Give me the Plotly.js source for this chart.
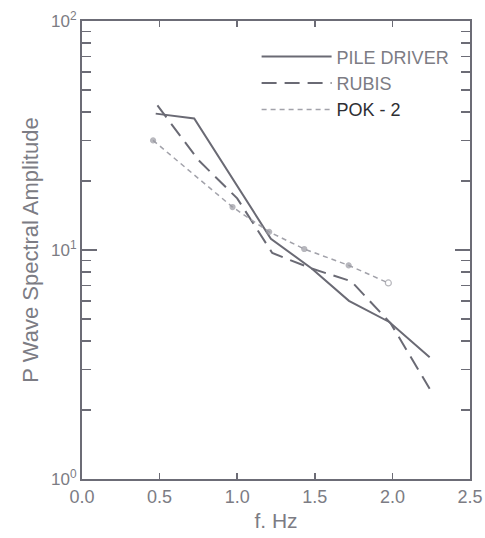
<!DOCTYPE html>
<html>
<head>
<meta charset="utf-8">
<script src="https://cdn.plot.ly/plotly-3.0.1.min.js"></script>
<style>html,body{margin:0;padding:0;background:#fff;}#chart{width:485px;height:538px;}</style>
</head>
<body>
<div id="chart"></div>
<script>
// Data
var pileDriverF = [0.475, 0.723, 1.217, 1.48, 1.72, 1.98, 2.24];
var pileDriverA = [39.4, 37.5, 11.2, 8.3, 6.0, 4.85, 3.4];

var rubisF = [0.486, 0.75, 1.0, 1.226, 1.48, 1.735, 1.99, 2.24];
var rubisA = [42.8, 24.7, 16.8, 9.7, 8.3, 7.3, 4.77, 2.48];

var pokF = [0.458, 0.97, 1.206, 1.432, 1.718, 1.974];
var pokA = [30.1, 15.4, 12.0, 10.1, 8.57, 7.18];

var seriesNames = ['PILE DRIVER', 'RUBIS', 'POK - 2'];
var yTickVals = [1, 10, 100];
var yTickText = ['10<sup>0</sup>', '10<sup>1</sup>', '10<sup>2</sup>'];
var xTickVals = [0, 0.5, 1.0, 1.5, 2.0, 2.5];
var xTickText = ['0.0', '0.5', '1.0', '1.5', '2.0', '2.5'];

var axisColor = '#6c6c76';
var textColor = '#7c7c84';
var pokColor = '#9a9aa2';

var traces = [
  {x: pileDriverF, y: pileDriverA, name: seriesNames[0], type: 'scatter', mode: 'lines',
   line: {color: '#6a6a74', width: 2}},
  {x: rubisF, y: rubisA, name: seriesNames[1], type: 'scatter', mode: 'lines',
   line: {color: '#6a6a74', width: 2, dash: '15px,8px'}},
  {x: pokF, y: pokA, name: '<span style="color:#2e2e33">' + seriesNames[2] + '</span>', type: 'scatter', mode: 'lines',
   line: {color: '#a2a2aa', width: 1.5, dash: '5px,4px'}},
  {x: pokF, y: pokA, name: seriesNames[2], type: 'scatter', mode: 'markers', showlegend: false,
   marker: {size: [5,5,5,5,5,6], color: pokF.map(function(v, i){ return i === pokF.length - 1 ? '#fff' : pokColor; }),
            line: {color: pokColor, width: 1.2}, symbol: 'circle'}}
];

var layout = {
  width: 485, height: 538,
  margin: {l: 82, r: 15, t: 21, b: 59},
  paper_bgcolor: '#fff', plot_bgcolor: '#fff',
  font: {family: '"Liberation Sans", Arial, sans-serif', color: textColor},
  showlegend: true,
  legend: {x: 0.45, y: 0.962, xanchor: 'left', yanchor: 'top', bgcolor: 'rgba(0,0,0,0)',
           font: {size: 18, color: textColor}, itemwidth: 70, tracegroupgap: 0},
  xaxis: {
    type: 'linear', range: [0, 2.5], tickvals: xTickVals, ticktext: xTickText,
    ticks: 'inside', ticklen: 6, tickwidth: 1.5, tickcolor: axisColor,
    showline: true, linecolor: axisColor, linewidth: 2, mirror: 'ticks',
    showgrid: false, zeroline: false,
    tickfont: {size: 18, color: textColor},
    title: {text: 'f. Hz', font: {size: 21, color: textColor}, standoff: 8}
  },
  yaxis: {
    type: 'log', range: [0, 2], tickvals: yTickVals, ticktext: yTickText,
    ticks: 'inside', ticklen: 15, tickwidth: 1.5, tickcolor: axisColor,
    minor: {ticks: 'inside', ticklen: 9, tickwidth: 1.5, tickcolor: axisColor, dtick: 'D1', showgrid: false},
    showline: true, linecolor: axisColor, linewidth: 2, mirror: 'ticks',
    showgrid: false, zeroline: false,
    tickfont: {size: 17, color: textColor},
    title: {text: 'P Wave Spectral Amplitude', font: {size: 22, color: textColor}, standoff: 6}
  }
};

Plotly.newPlot('chart', traces, layout, {displayModeBar: false, staticPlot: true});
</script>
</body>
</html>
